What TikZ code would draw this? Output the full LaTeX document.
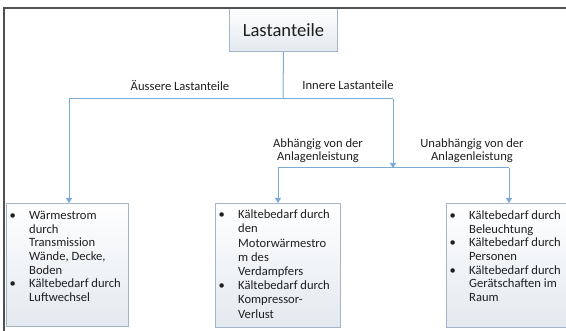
\documentclass[tikz,border=0pt]{standalone}
\usepackage{fontspec}
\setmainfont{Carlito}
\usetikzlibrary{arrows.meta}
\definecolor{conn}{HTML}{7AAAD4}
\definecolor{boxline}{HTML}{A3B6C9}
\definecolor{boxbot}{HTML}{E3E9EF}
\definecolor{txt}{HTML}{1F1F1F}
\definecolor{framec}{HTML}{505050}
\newcommand\bul{\makebox[23pt][l]{\makebox[13pt]{•}}}
\newcommand\ind{\hspace*{23pt}}
\newcommand\fst{\rule{0pt}{10pt}}
\begin{document}
\begin{tikzpicture}[x=1pt,y=-1pt,
  box/.style={draw=boxline, line width=0.9pt, top color=white, bottom color=boxbot,
    anchor=north west, inner sep=0pt},
  listtxt/.style={anchor=north west, inner sep=0pt, align=left, text=txt,
    font=\fontsize{12.6}{13.6}\selectfont},
  lbl/.style={inner sep=0pt, align=center, text=txt, font=\fontsize{12.6}{13.4}\selectfont},
  conn/.style={draw=conn, line width=1pt},
  connarrow/.style={conn, -{Triangle[width=6pt,length=5pt]}, color=conn},
  framestyle/.style={draw=framec, line width=1.5pt}
]
\useasboundingbox (0,0) rectangle (566,331);

% boxes
\node[box, minimum width=108pt, minimum height=43pt, text=txt,
  font=\fontsize{18.6}{20}\selectfont] (top) at (229,8) {Lastanteile};
\node[box, minimum width=122pt, minimum height=123pt] (lbox) at (6,203) {};
\node[box, minimum width=125pt, minimum height=124pt] (mbox) at (215,203) {};
\node[box, minimum width=134pt, minimum height=124pt] (rbox) at (446,203) {};

% frame
\draw[framestyle] (4,345) -- (4,8) -- (575,8);

% list texts
\node[listtxt] (ltxt) at (6,209.5) {\fst\bul Wärmestrom\\ \ind durch\\ \ind Transmission\\ \ind Wände, Decke,\\ \ind Boden\\ \bul Kältebedarf durch\\ \ind Luftwechsel};
\node[listtxt, font=\fontsize{12.6}{14.2}\selectfont] (mtxt) at (215,208.5) {\fst\bul Kältebedarf durch\\ \ind den\\ \ind Motorwärmestro\\ \ind m des\\ \ind Verdampfers\\ \bul Kältebedarf durch\\ \ind Kompressor-\\ \ind Verlust};
\node[listtxt] (rtxt) at (446,209.5) {\fst\bul Kältebedarf durch\\ \ind Beleuchtung\\ \bul Kältebedarf durch\\ \ind Personen\\ \bul Kältebedarf durch\\ \ind Gerätschaften im\\ \ind Raum};

% labels
\node[lbl] (aus) at (180,85) {Äussere Lastanteile};
\node[lbl] (inn) at (348,85) {Innere Lastanteile};
\node[lbl] (abh) at (318,151) {Abhängig von der\\Anlagenleistung};
\node[lbl] (unabh) at (472,151) {Unabhängig von der\\Anlagenleistung};

% connectors
\coordinate (j0) at (283,99);
\coordinate (jl) at (69,99);
\coordinate (jr) at (393,99);
\coordinate (j2) at (393,168);
\coordinate (k1) at (278,168);
\coordinate (k2) at (509,168);
\draw[conn] (top.south) -- (j0);
\draw[conn] (jl) -- (jr);
\draw[connarrow] (jl) -- (jl |- lbox.north);
\draw[connarrow] (jr) -- (j2);
\draw[conn] (k1) -- (k2);
\draw[connarrow] (k1) -- (k1 |- mbox.north);
\draw[connarrow] (k2) -- (k2 |- rbox.north);
\end{tikzpicture}
\end{document}
